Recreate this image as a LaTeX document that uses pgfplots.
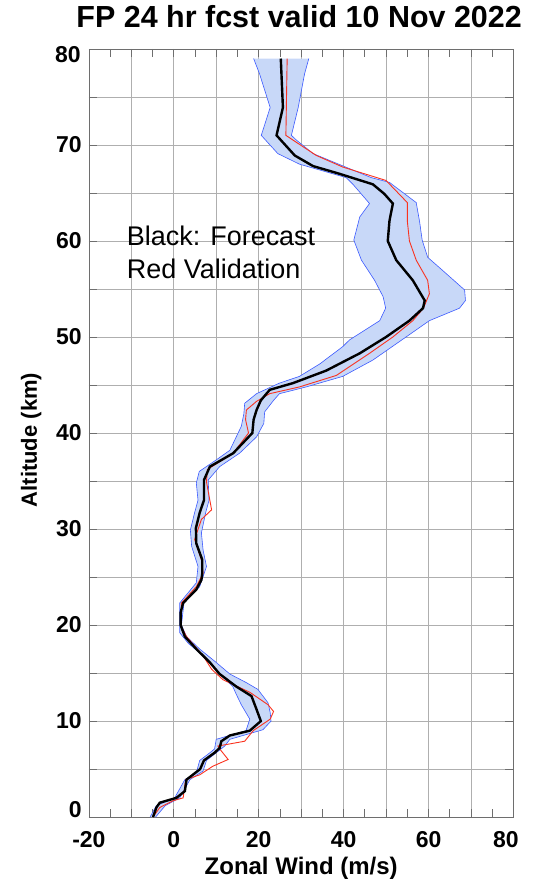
\documentclass[border=0pt]{standalone}
\usepackage{fontspec}
\setmainfont{Liberation Sans}
\usepackage{pgfplots}
\usepackage{pgfplotstable}
\pgfplotsset{compat=1.18}
\usepgfplotslibrary{fillbetween}
\definecolor{bandfill}{RGB}{200,216,248}
\definecolor{bandedge}{RGB}{60,90,255}
\definecolor{valred}{RGB}{250,50,30}
\definecolor{gridc}{RGB}{175,175,175}
\definecolor{framec}{RGB}{110,110,110}

\pgfplotstableread{
u z
-4.9 0
-4.1 1.0
-3.3 1.5
0.6 2.0
2.6 2.7
3.0 3.9
6.2 5.0
7.1 5.9
9.6 6.7
10.8 7.2
11.2 7.9
13.2 8.5
17.9 9.0
20.5 10.0
19.5 11.2
18.3 12.6
14.7 13.6
10.8 14.9
8.5 16.1
5.3 17.5
2.6 18.8
1.6 20.0
1.6 21.3
2.2 22.3
5.3 23.7
6.5 24.7
6.7 25.4
6.7 26.8
5.3 28.5
5.2 30.1
6.1 31.7
7.1 33.0
7.1 35.1
8.5 36.5
14.0 37.9
18.5 40.0
18.8 41.4
19.5 42.4
20.5 43.4
22.6 44.5
28.1 45.2
35.9 46.5
43.8 48.3
50.0 50.0
55.5 51.7
58.7 53.0
59.1 53.8
56.3 55.9
52.4 58.0
50.4 60.0
50.8 62.1
51.6 63.9
49.6 64.9
46.9 65.9
39.0 67.0
32.8 67.8
28.5 68.9
24.2 71.0
25.7 73.9
25.2 79.0
}\forecast

\pgfplotstableread{
u z
-4.9 0
-3.3 1.0
-0.2 1.7
2.2 2.0
2.8 3.9
6.1 4.4
9.2 5.3
12.8 6.0
10.8 7.1
10.4 7.4
16.7 7.9
18.7 9.0
22.7 10.2
23.5 11.0
22.2 11.7
17.9 13.0
11.6 14.3
8.9 15.4
6.9 16.8
3.0 18.8
1.6 20.0
1.8 22.3
5.3 24.0
6.9 25.4
6.5 26.8
4.9 28.9
6.5 31.0
8.9 32.0
7.7 34.9
7.9 36.2
14.0 37.9
17.6 40.0
16.9 41.4
17.1 42.4
19.5 43.3
22.6 44.1
29.6 44.8
38.3 46.0
46.1 48.3
51.6 50.0
56.3 51.7
58.8 53.0
60.2 54.5
59.8 55.9
57.1 58.0
55.5 60.0
55.0 62.1
55.0 64.0
50.0 66.3
39.8 67.7
33.6 68.9
28.1 70.5
26.4 71.0
26.7 79.0
}\validation

\pgfplotstableread{
u z
-5.6 0
-4.1 1.2
0.2 2.0
2.6 3.9
5.3 4.6
6.1 5.9
8.5 6.7
9.6 7.1
10.0 8.1
17.0 9.0
17.9 10.2
15.9 11.7
14.7 12.8
13.9 13.6
10.8 14.9
9.2 15.7
6.9 16.8
3.4 18.1
1.4 19.2
1.4 22.3
5.3 24.4
5.7 26.1
4.2 28.2
3.9 29.9
4.9 31.7
5.7 33.0
5.3 34.8
6.0 36.0
10.0 37.2
13.2 38.2
15.9 40.7
16.5 42.0
16.7 43.1
19.5 44.1
24.9 45.2
29.6 45.9
34.4 47.2
39.8 49.0
41.4 49.7
48.5 51.7
49.9 53.0
49.3 54.2
47.3 55.9
44.2 58.0
42.4 60.1
43.8 62.5
46.1 63.9
42.2 65.9
40.6 66.6
29.6 68.0
24.5 69.1
20.6 71.0
22.7 73.9
20.2 77.4
18.8 79.0
}\bandleft

\pgfplotstableread{
u z
-4.3 0
-2.0 1.2
1.4 2.0
3.8 3.9
6.9 4.8
7.7 5.9
10.0 6.7
12.0 7.4
13.2 8.1
21.0 9.1
22.9 10.0
22.7 10.9
22.2 11.9
19.8 13.3
17.1 14.0
13.2 14.9
10.0 16.1
6.1 17.5
3.0 18.8
1.8 20.0
2.4 22.3
6.1 24.0
7.7 26.1
6.9 27.8
6.5 29.6
7.5 31.7
8.3 33.0
8.1 35.1
10.8 36.5
15.5 37.9
19.5 39.6
21.2 41.0
21.4 42.2
23.5 43.4
24.9 44.1
31.2 44.8
39.8 45.9
46.9 47.6
54.7 50.0
60.2 51.7
67.3 53.0
68.7 53.8
68.5 54.9
63.4 56.9
59.8 58.3
58.5 60.1
57.9 62.0
57.1 64.0
50.8 66.1
46.5 66.6
32.8 69.1
28.9 70.5
27.7 71.0
29.3 73.9
30.8 77.4
31.8 79.0
}\bandright

\begin{document}
\begin{tikzpicture}
\begin{axis}[name=ax, scale only axis, width=425pt, height=769pt,
  xmin=-20, xmax=80, ymin=0, ymax=80,
  clip=false,
  xtick={-20,-10,...,80},
  xticklabels={-20,,0,,20,,40,,60,,},
  minor xtick={-15,-5,...,75},
  ytick={0,5,...,80},
  yticklabels={,,10,,20,,30,,40,,50,,60,,70,,},
  xmajorgrids=true, ymajorgrids=true,
  major grid style={gridc, line width=0.7pt},
  tick align=inside,
  major tick length=8pt, minor tick length=8pt,
  tick style={framec, line width=0.7pt},
  axis line style={framec, line width=0.8pt},
  ticklabel style={font=\fontsize{23}{23}\selectfont\bfseries, inner sep=0pt},
  xticklabel style={yshift=-14pt},
  yticklabel style={xshift=-7pt},
  title={FP 24 hr fcst valid 10 Nov 2022},
  title style={font=\fontsize{30.5}{30.5}\selectfont\bfseries, at={(axis description cs:0.5,1)}, anchor=base, yshift=15pt, xshift=-2pt, inner sep=0pt},
  xlabel={Zonal Wind (m/s)},
  xlabel style={font=\fontsize{24}{24}\selectfont\bfseries, at={(axis description cs:0.5,0)}, anchor=base, yshift=-57pt, inner sep=0pt},
  ylabel={Altitude (km)},
  ylabel style={font=\fontsize{22}{22}\selectfont\bfseries, at={(axis description cs:0,0.5)}, anchor=base, xshift=-7pt, yshift=52pt, inner sep=0pt},
]
\addplot[name path=L, draw=bandedge, line width=0.6pt] table[x=u,y=z] {\bandleft};
\addplot[name path=R, draw=bandedge, line width=0.6pt] table[x=u,y=z] {\bandright};
\addplot[bandfill] fill between[of=L and R];
\addplot[valred, line width=0.9pt] table[x=u,y=z] {\validation};
\addplot[black, line width=2.4pt] table[x=u,y=z] {\forecast};
\node[anchor=base west, font=\fontsize{27}{27}\selectfont, inner sep=0pt] at (axis description cs:0.089,0.744) {Black: Forecast};
\node[anchor=base west, font=\fontsize{27}{27}\selectfont, inner sep=0pt] at (axis description cs:0.089,0.701) {Red Validation};
\node[anchor=east, font=\fontsize{23}{23}\selectfont\bfseries, inner sep=0pt, xshift=-7pt] at (axis description cs:0,0.0104) {0};
\node[anchor=east, font=\fontsize{23}{23}\selectfont\bfseries, inner sep=0pt, xshift=-8pt] at (axis description cs:0,0.992) {80};
\node[anchor=north, font=\fontsize{23}{23}\selectfont\bfseries, inner sep=0pt, yshift=-14pt] at (axis description cs:0.982,0) {80};
\end{axis}
\path ([xshift=-89pt,yshift=-61pt]ax.south west) rectangle ([xshift=20pt,yshift=49pt]ax.north east);
\end{tikzpicture}
\end{document}
